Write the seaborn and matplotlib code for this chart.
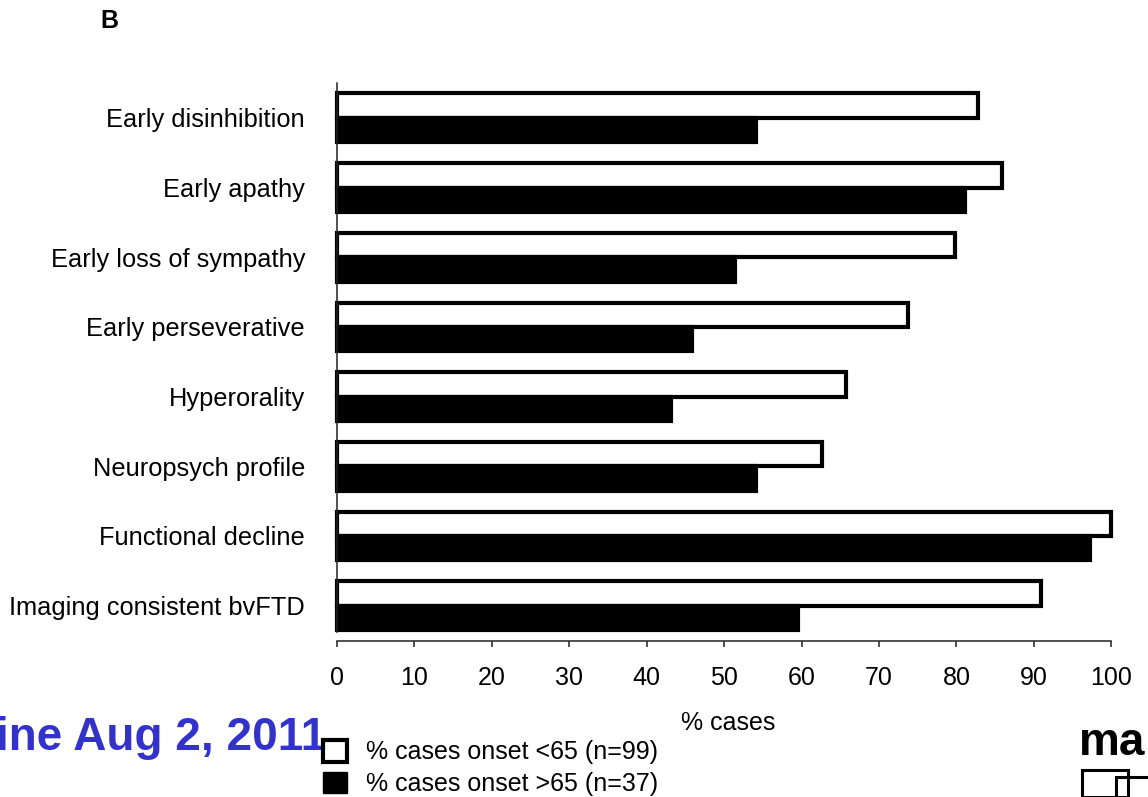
import matplotlib
matplotlib.use("Agg")
import matplotlib.pyplot as plt
from matplotlib.patches import Patch, Rectangle
import seaborn as sns
import pandas as pd

# Diagnostic features and percentage of cases meeting each, by age at onset
features = [
    "Early disinhibition",
    "Early apathy",
    "Early loss of sympathy",
    "Early perseverative",
    "Hyperorality",
    "Neuropsych profile",
    "Functional decline",
    "Imaging consistent bvFTD",
]
pct_young = [82.8, 85.9, 79.8, 73.7, 65.7, 62.6, 100.0, 90.9]   # onset <65 (n=99)
pct_old = [54.1, 81.1, 51.4, 45.9, 43.2, 54.1, 97.3, 59.5]      # onset >65 (n=37)
group_labels = ["% cases onset <65 (n=99)", "% cases onset >65 (n=37)"]
x_ticks = [0, 10, 20, 30, 40, 50, 60, 70, 80, 90, 100]

df = pd.DataFrame({
    "feature": features * 2,
    "pct": pct_young + pct_old,
    "group": [group_labels[0]] * len(features) + [group_labels[1]] * len(features),
})

sns.set_style("white")
plt.rcParams["font.family"] = ["Liberation Sans", "DejaVu Sans"]
plt.rcParams["text.color"] = "black"
plt.rcParams["axes.labelcolor"] = "black"
plt.rcParams["xtick.color"] = "black"
plt.rcParams["ytick.color"] = "black"

FS = 18
W, H = 1148, 797
fig = plt.figure(figsize=(W / 100, H / 100), dpi=100)
ax = fig.add_axes([337 / W, 1 - 640.5 / H, (1119 - 337) / W, (640.5 - 83) / H])

sns.barplot(
    data=df, y="feature", x="pct", hue="group", orient="h",
    order=features, hue_order=group_labels,
    palette={group_labels[0]: "white", group_labels[1]: "black"},
    width=0.7, saturation=1, edgecolor="black", linewidth=3,
    legend=False, ax=ax, errorbar=None,
)
for p in ax.patches:
    p.set_clip_on(False)

ax.set_xlim(0, 101)
ax.set_ylim(7.5, -0.5)
ax.set_xticks(x_ticks)
ax.set_xticklabels([str(t) for t in x_ticks])

for s in ["top", "right"]:
    ax.spines[s].set_visible(False)
ax.spines["left"].set_bounds(-0.5, 7.38)
ax.spines["bottom"].set_bounds(0, 100)
for s in ["left", "bottom"]:
    ax.spines[s].set_linewidth(1.1)
    ax.spines[s].set_color("#222222")

ax.tick_params(axis="x", direction="out", length=4.5, width=1.1, color="#222222",
               labelsize=FS, pad=14, bottom=True, labelcolor="black")
ax.tick_params(axis="y", length=0, labelsize=18.3, pad=23, labelcolor="black")
ax.set_ylabel("")
ax.set_xlabel("% cases", fontsize=FS, labelpad=15, color="black")

# Legend below the axis
handles = [
    Patch(facecolor="white", edgecolor="black", linewidth=3),
    Patch(facecolor="black", edgecolor="black", linewidth=1),
]
fig.legend(handles, group_labels, loc="upper left",
           bbox_to_anchor=(323 / W, 1 - 740 / H), frameon=False, fontsize=FS,
           handlelength=0.95, handleheight=0.95, handletextpad=0.78,
           labelspacing=0.3, borderpad=0, borderaxespad=0)

# Panel letter
fig.text(100 / W, 1 - 28 / H, "B", fontsize=18, fontweight="bold", ha="left",
         va="baseline", color="black")

# Publication date banner and logo fragment along the bottom edge
fig.text(-4 / W, 1 - 750 / H, "ine Aug 2, 2011", fontsize=33, fontweight="bold",
         color="#3333CC", ha="left", va="baseline")
fig.text(1079 / W, 1 - 755 / H, "ma", fontsize=33, fontweight="bold",
         color="black", ha="left", va="baseline")
fig.add_artist(Rectangle((1082 / W, 0), 46 / W, (797 - 770) / H,
                         transform=fig.transFigure, fill=False,
                         edgecolor="black", linewidth=2.2, clip_on=False))
fig.add_artist(Rectangle((1116 / W, -0.05), 60 / W, 0.05 + (797 - 777) / H,
                         transform=fig.transFigure, fill=False,
                         edgecolor="black", linewidth=2.2, clip_on=False))

fig.savefig("out.png", dpi=100)
